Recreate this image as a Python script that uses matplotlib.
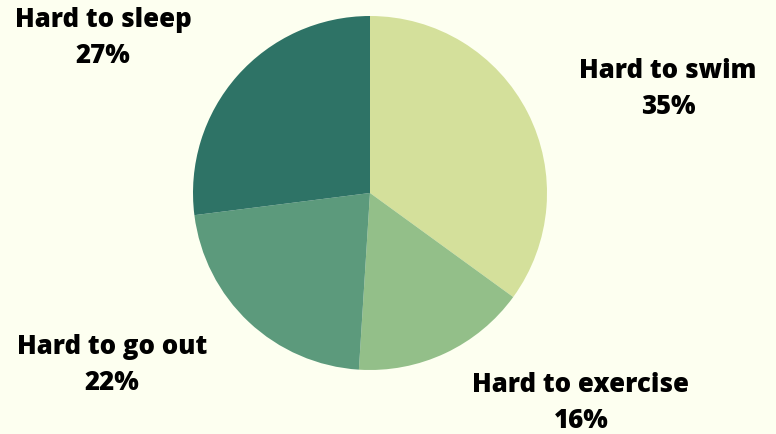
import matplotlib.pyplot as plt

labels = ["Hard to swim", "Hard to exercise", "Hard to go out", "Hard to sleep"]
shares = [35, 16, 22, 27]
colors = ["#d4e09b", "#93bf89", "#5c9a7c", "#2e7366"]
# label centres in pixels (x, y from top)
label_pos = [(668, 89), (581, 403), (112, 365), (103, 38)]

bg = "#fdfff0"
W, H = 776, 434
cx, cy, r = 370, 193, 177

fig = plt.figure(figsize=(W / 100, H / 100), dpi=100, facecolor=bg)
ax = fig.add_axes([(cx - r) / W, (H - cy - r) / H, 2 * r / W, 2 * r / H])
ax.set_facecolor(bg)
ax.pie(shares, colors=colors, startangle=90, counterclock=False,
       radius=1, wedgeprops=dict(linewidth=0))
ax.set_xlim(-1, 1)
ax.set_ylim(-1, 1)
ax.set_aspect("equal")
ax.axis("off")

for lab, val, (px, py) in zip(labels, shares, label_pos):
    fig.text(px / W, 1 - py / H, f"{lab}\n{val}%", ha="center", va="center",
             fontsize=18.5, fontweight="heavy", family="Open Sans",
             linespacing=1.5, color="#000000")

fig.savefig("out.png", dpi=100, facecolor=bg)
